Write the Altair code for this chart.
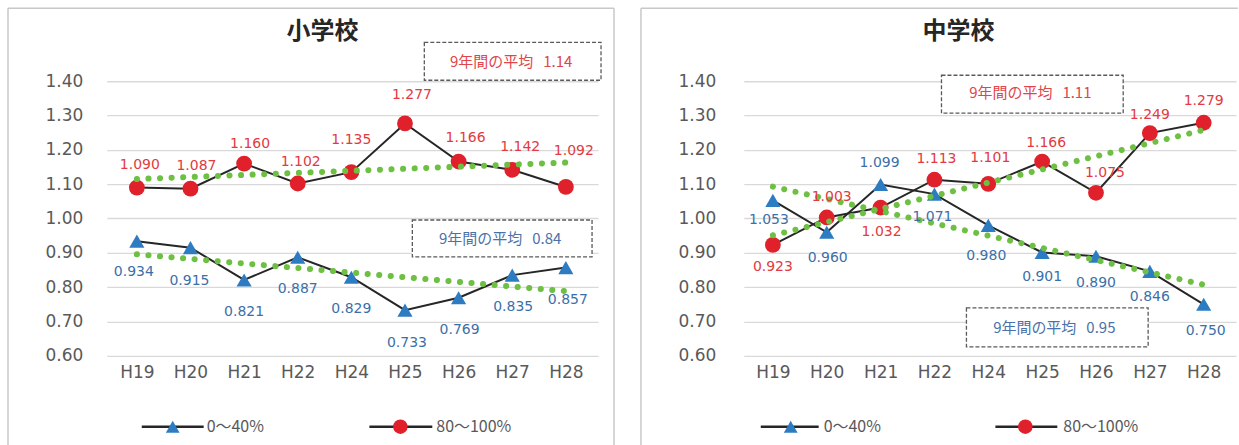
import altair as alt
import pandas as pd

# ---------------- data ----------------
years = ["H19", "H20", "H21", "H22", "H24", "H25", "H26", "H27", "H28"]
series_names = ["0～40%", "80～100%"]
panel_titles = ["小学校", "中学校"]

elem_low = [0.934, 0.915, 0.821, 0.887, 0.829, 0.733, 0.769, 0.835, 0.857]
elem_high = [1.090, 1.087, 1.160, 1.102, 1.135, 1.277, 1.166, 1.142, 1.092]
mid_low = [1.053, 0.960, 1.099, 1.071, 0.980, 0.901, 0.890, 0.846, 0.750]
mid_high = [0.923, 1.003, 1.032, 1.113, 1.101, 1.166, 1.075, 1.249, 1.279]

avg_low = [0.84, 0.95]
avg_high = [1.14, 1.11]
avg_label = "9年間の平均"

y_ticks = [0.60, 0.70, 0.80, 0.90, 1.00, 1.10, 1.20, 1.30, 1.40]

# ---------------- styles ----------------
# label offsets in pixels (dx, dy) for each point
elem_low_dx = [-3, -1, 0, 0, 0, 2, 1, 1, 2]
elem_low_dy = [31, 33, 32, 32, 32, 33, 32, 32, 32]
elem_high_dx = [3, 6, 6, 3, 0, 7, 7, 8, 8]
elem_high_dy = [-23, -23, -20, -22, -32, -28, -24, -23, -36]
mid_low_dx = [-4, 1, -1, -2, -2, 0, 0, 0, 2]
mid_low_dy = [20, 26, -22, 23, 31, 25, 27, 26, 27]
mid_high_dx = [0, 5, 1, 2, 2, 4, 9, 0, 0]
mid_high_dy = [22, -21, 25, -21, -26, -19, -20, -18, -22]

BLUE = "#2D7CC1"
RED = "#E0202A"
BLUE_TXT = "#3C6FA8"
RED_TXT = "#E23A40"
GREEN = "#6DC043"
LINE = "#262626"
GRAY = "#595959"
FRAME = "#c8c8c8"
NUM_FONT = "DejaVu Sans"
JP_FONT = "Noto Sans CJK JP"

label_expr = "[" + ",".join("'%s'" % y for y in years) + "][datum.value]"


def one(**kw):
    return pd.DataFrame([kw])


def panel(low, high, low_dx, low_dy, high_dx, high_dy, title, a_low, a_high,
          width, x_dom, lab_pad, geo):
    rows = []
    for name, vals, dxs, dys in [(series_names[0], low, low_dx, low_dy),
                                 (series_names[1], high, high_dx, high_dy)]:
        for i, (y, v) in enumerate(zip(years, vals)):
            rows.append({"idx": i, "year": y, "value": v, "series": name,
                         "dx": dxs[i], "dy": dys[i]})
    df = pd.DataFrame(rows)

    x_enc = alt.X("idx:Q",
                  scale=alt.Scale(domain=x_dom, nice=False, zero=False),
                  axis=alt.Axis(values=list(range(len(years))), labelExpr=label_expr,
                                grid=False, domain=False, ticks=False,
                                labelFontSize=17, labelColor=GRAY, labelFont=NUM_FONT,
                                labelPadding=9, title=None))
    y_enc = alt.Y("value:Q",
                  scale=alt.Scale(domain=[0.6, 1.4], nice=False, zero=False),
                  axis=alt.Axis(values=y_ticks, format=".2f", grid=True,
                                gridColor="#d9d9d9", gridWidth=1.3, domain=False,
                                ticks=False, labelFontSize=17, labelColor=GRAY,
                                labelFont=NUM_FONT, labelPadding=lab_pad, title=None))

    base = alt.Chart(df)
    layers = []

    # frame (three sides, bottom cut off by the page)
    fx1, fx2, fy1, fy2 = geo["frame"]
    fr = alt.Chart(one(a=1)).mark_rule(color=FRAME, strokeWidth=1.5)
    layers.append(fr.encode(x=alt.value(fx1), y=alt.value(fy1), y2=alt.value(fy2)))
    layers.append(fr.encode(x=alt.value(fx1), x2=alt.value(fx2), y=alt.value(fy1)))
    if geo["right_side"]:
        layers.append(fr.encode(x=alt.value(fx2), y=alt.value(fy1), y2=alt.value(fy2)))

    # data lines
    layers.append(base.mark_line(color=LINE, strokeWidth=2).encode(
        x=x_enc, y=y_enc, detail="series:N"))
    layers.append(base.transform_filter(alt.datum.series == series_names[0])
                  .mark_point(shape="triangle-up", filled=True, color=BLUE,
                              opacity=1, size=230)
                  .encode(x=x_enc, y=y_enc))
    layers.append(base.transform_filter(alt.datum.series == series_names[1])
                  .mark_point(shape="circle", filled=True, color=RED,
                              opacity=1, size=250)
                  .encode(x=x_enc, y=y_enc))
    # linear trend lines (green dotted)
    layers.append(base.transform_regression("idx", "value", groupby=["series"],
                                            extent=[0, len(years) - 1])
                  .mark_line(color=GREEN, strokeWidth=6, strokeCap="round",
                             strokeDash=[0.1, 11.5])
                  .encode(x=x_enc, y=y_enc, detail="series:N"))
    # value labels
    for name, col in [(series_names[0], BLUE_TXT), (series_names[1], RED_TXT)]:
        layers.append(base.transform_filter(alt.datum.series == name)
                      .mark_text(font=NUM_FONT, fontSize=14, color=col,
                                 baseline="middle", align="center",
                                 dx=alt.expr("datum.dx"), dy=alt.expr("datum.dy"))
                      .encode(x=x_enc, y=y_enc,
                              text=alt.Text("value:Q", format=".3f")))

    # average boxes
    for (bx1, bx2, by1, by2, tx, ty), val, col in [
            (geo["box_high"], a_high, "#E0454B"),
            (geo["box_low"], a_low, "#4A72A8")]:
        layers.append(alt.Chart(one(a=1)).mark_rect(
            fill="white", stroke="#5a5a5a", strokeWidth=1.3, strokeDash=[4, 2])
            .encode(x=alt.value(bx1), x2=alt.value(bx2),
                    y=alt.value(by1), y2=alt.value(by2)))
        layers.append(alt.Chart(one(t=f"{avg_label}\u00a0\u00a0\u00a0{val:.2f}")).mark_text(
            font=JP_FONT, fontSize=15, color=col, align="center", baseline="middle")
            .encode(x=alt.value(tx), y=alt.value(ty), text="t:N"))

    # title
    tx, ty = geo["title"]
    layers.append(alt.Chart(one(t=title)).mark_text(
        font=JP_FONT, fontSize=24, fontWeight="bold", color="#262626",
        align="center", baseline="middle")
        .encode(x=alt.value(tx), y=alt.value(ty), text="t:N"))

    # legend
    ly = geo["legend_y"]
    for (lx1, lx2, mx, txx), name, shape, col, size in [
            (geo["leg_low"], series_names[0], "triangle-up", BLUE, 190),
            (geo["leg_high"], series_names[1], "circle", RED, 210)]:
        layers.append(alt.Chart(one(a=1)).mark_rule(color=LINE, strokeWidth=2.5)
                      .encode(x=alt.value(lx1), x2=alt.value(lx2), y=alt.value(ly)))
        layers.append(alt.Chart(one(a=1)).mark_point(
            shape=shape, filled=True, color=col, opacity=1, size=size)
            .encode(x=alt.value(mx), y=alt.value(ly)))
        layers.append(alt.Chart(one(t=name)).mark_text(
            font=JP_FONT, fontSize=16, color=GRAY, align="left", baseline="middle")
            .encode(x=alt.value(txx), y=alt.value(ly), text="t:N"))

    return alt.layer(*layers).properties(width=width, height=275)


left_geo = {
    "frame": (-99, 508, -73, 365),
    "right_side": True,
    "box_high": (318, 495, -39, -1, 405, -19),
    "box_low": (306, 486, 139, 176, 394, 158),
    "title": (216, -49),
    "legend_y": 346,
    "leg_low": (35, 97, 66, 100),
    "leg_high": (263, 326, 294, 330),
}
right_geo = {
    "frame": (-103, 495, -73, 365),
    "right_side": False,
    "box_high": (198, 380, -6, 32, 287, 12),
    "box_low": (223, 405, 227, 266, 311, 247),
    "title": (215, -49),
    "legend_y": 346,
    "leg_low": (17, 75, 47, 80),
    "leg_high": (252, 314, 282, 320),
}

left = panel(elem_low, elem_high, elem_low_dx, elem_low_dy, elem_high_dx, elem_high_dy,
             panel_titles[0], avg_low[0], avg_high[0], 492, [-0.56, 8.6], 24, left_geo)
right = panel(mid_low, mid_high, mid_low_dx, mid_low_dy, mid_high_dx, mid_high_dy,
              panel_titles[1], avg_low[1], avg_high[1], 493, [-0.54, 8.6], 28, right_geo)

chart = alt.hconcat(left, right, spacing=146, bounds="flush").properties(
    padding={"left": 7, "top": 7, "right": 0, "bottom": 0},
    background="white",
).configure_view(stroke=None)

chart.save("out.html", embed_options={"renderer": "svg", "actions": False})
